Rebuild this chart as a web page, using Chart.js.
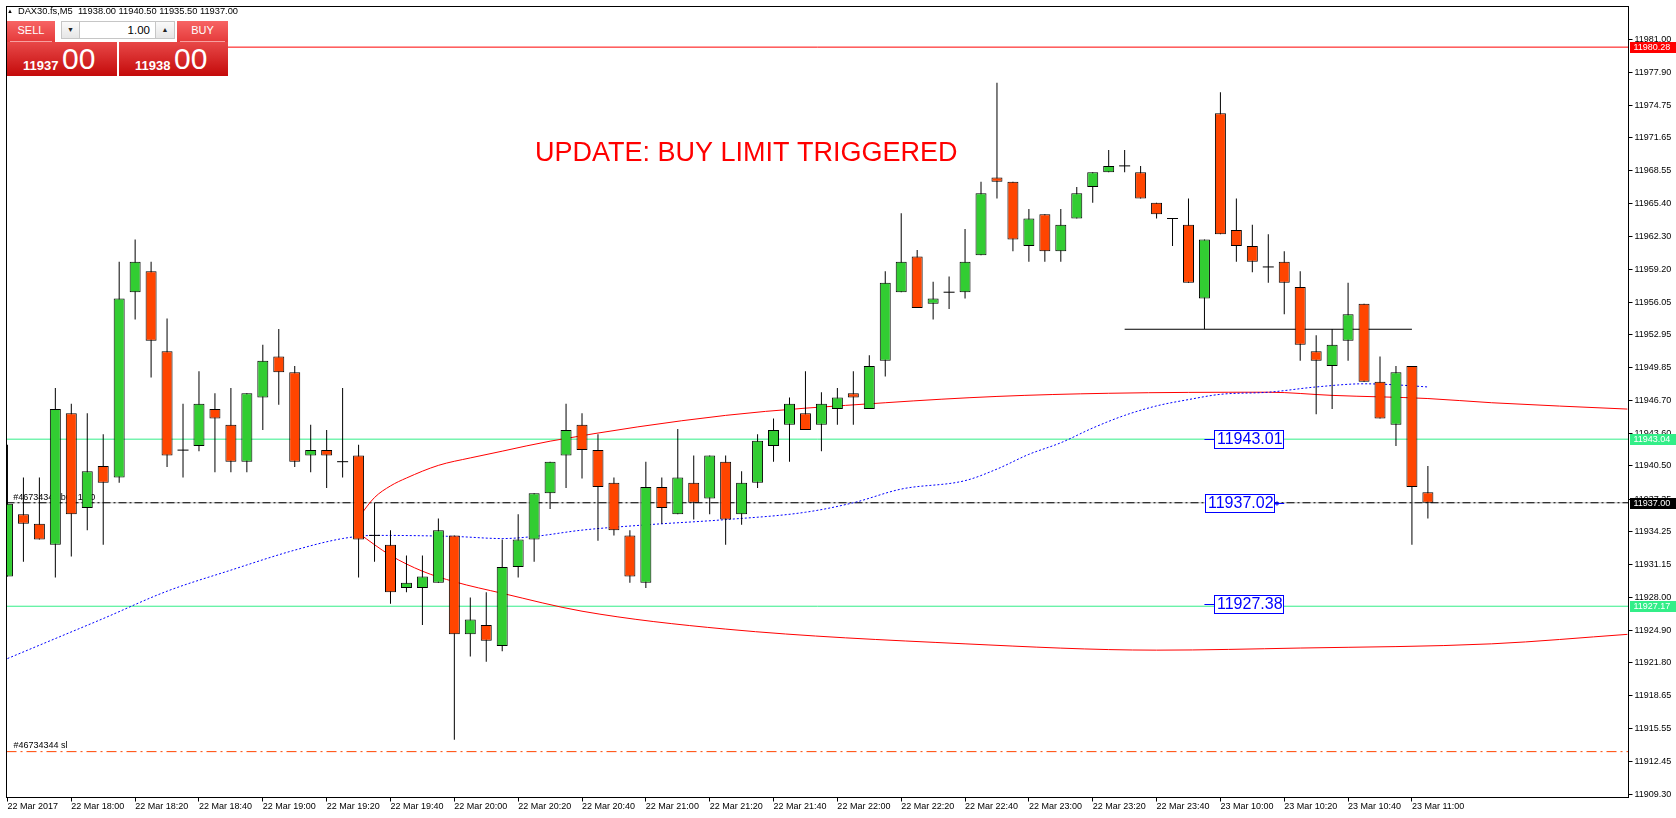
<!DOCTYPE html>
<html><head><meta charset="utf-8">
<script src="https://cdn.jsdelivr.net/npm/chart.js@4.4.0/dist/chart.umd.min.js"></script>
<style>
html,body{margin:0;padding:0;background:#fff;overflow:hidden}
#wrap{position:relative;width:1676px;height:818px}
canvas{display:block;position:absolute;left:0;top:0}
.a{position:absolute;box-sizing:border-box;font-family:"Liberation Sans",Arial,sans-serif;white-space:nowrap}
#hdr{left:7px;top:6px;font-size:9.3px;line-height:10px;color:#000}
#hdr .tri{font-size:6px;vertical-align:1px;margin-right:5px}
#pbg{left:7px;top:20px;width:221px;height:56px;background:#fff}
.btn{top:21px;height:21px;background:linear-gradient(#f76464,#e53a3a);color:#fff;font-size:11px;line-height:19px;text-align:center}
.btn i{position:absolute;left:3px;right:3px;bottom:0;height:1px;background:#f7a0a0}
.spin{top:21px;width:19px;height:18px;background:linear-gradient(#fafafa,#e6e6e6);border:1px solid #c6c6c6;color:#222;font-size:7px;line-height:16px;text-align:center}
#lot{left:80px;top:21px;width:75px;height:18px;background:#fff;border-top:1px solid #c6c6c6;border-bottom:1px solid #c6c6c6;color:#000;font-size:11.5px;line-height:16px;text-align:right;padding-right:5px}
.pr{top:42px;height:34px;background:linear-gradient(#e84848,#c40a0a);color:#fff}
.pr .sm{position:absolute;top:17px;font-weight:bold;font-size:13px;line-height:13px}
.pr .bg{position:absolute;top:2px;font-size:30px;line-height:30px}
</style></head><body>
<div id="wrap">
<canvas id="c" width="1676" height="818"></canvas>
<div class="a" id="hdr"><span class="tri">&#9650;</span>DAX30.fs,M5&nbsp; 11938.00 11940.50 11935.50 11937.00</div>
<div class="a" id="pbg"></div>
<div class="a btn" style="left:7px;width:48px">SELL<i></i></div>
<div class="a spin" style="left:61px">&#9660;</div>
<div class="a" id="lot">1.00</div>
<div class="a spin" style="left:155px;width:20px">&#9650;</div>
<div class="a btn" style="left:177px;width:51px">BUY<i></i></div>
<div class="a pr" style="left:7px;width:110px"><span class="sm" style="left:16px">11937</span><span class="bg" style="left:55px">00</span></div>
<div class="a pr" style="left:119px;width:109px"><span class="sm" style="left:16px">11938</span><span class="bg" style="left:55px">00</span></div>
</div>
<script>
// ---------- DATA ----------
const tickLabels = ['22 Mar 2017','22 Mar 18:00','22 Mar 18:20','22 Mar 18:40','22 Mar 19:00','22 Mar 19:20','22 Mar 19:40','22 Mar 20:00','22 Mar 20:20','22 Mar 20:40','22 Mar 21:00','22 Mar 21:20','22 Mar 21:40','22 Mar 22:00','22 Mar 22:20','22 Mar 22:40','22 Mar 23:00','22 Mar 23:20','22 Mar 23:40','23 Mar 10:00','23 Mar 10:20','23 Mar 10:40','23 Mar 11:00'];
const barsPerTick = 4;
const yTicks = [11981.00,11977.90,11974.75,11971.65,11968.55,11965.40,11962.30,11959.20,11956.05,11952.95,11949.85,11946.70,11943.60,11940.50,11937.35,11934.25,11931.15,11928.00,11924.90,11921.80,11918.65,11915.55,11912.45,11909.30];

const opens  = [11930.0,11935.9,11935.0,11933.0,11945.5,11936.5,11940.5,11939.4,11957.0,11959.0,11951.4,11942.0,11942.4,11945.9,11944.4,11940.9,11947.0,11950.9,11949.4,11941.5,11942.0,11940.9,11941.5,11933.9,11933.0,11928.9,11928.9,11929.4,11933.9,11924.5,11925.4,11923.4,11930.9,11933.5,11937.9,11941.5,11944.4,11942.0,11938.9,11933.9,11929.4,11938.5,11935.9,11938.9,11937.4,11940.9,11935.9,11938.9,11942.4,11944.4,11945.5,11944.4,11945.9,11947.4,11945.9,11950.5,11957.0,11960.4,11955.9,11957.0,11957.0,11960.5,11967.9,11967.5,11961.4,11964.4,11960.9,11964.0,11967.0,11968.4,11969.0,11968.4,11965.5,11964.0,11963.4,11956.4,11974.0,11962.9,11961.4,11959.4,11959.9,11957.5,11951.4,11950.0,11952.4,11955.9,11948.5,11944.4,11950.0,11938.0];
const highs  = [11942.5,11939.4,11939.4,11947.9,11946.4,11945.5,11943.5,11959.9,11962.0,11959.9,11954.5,11946.4,11949.5,11947.4,11947.9,11947.4,11952.0,11953.5,11950.0,11944.4,11943.9,11947.9,11942.5,11937.0,11934.4,11932.0,11932.0,11935.5,11933.9,11928.0,11928.5,11933.5,11935.9,11937.9,11940.9,11946.4,11945.5,11943.5,11939.4,11934.4,11940.9,11939.4,11944.0,11941.5,11941.5,11941.5,11940.0,11943.5,11945.0,11947.0,11949.5,11947.5,11947.9,11949.5,11951.0,11959.0,11964.5,11961.0,11958.0,11958.5,11963.0,11967.5,11976.9,11967.5,11964.9,11964.4,11964.9,11967.0,11968.4,11970.5,11970.5,11969.0,11965.5,11964.0,11965.9,11962.0,11976.0,11965.9,11963.4,11962.5,11960.9,11959.0,11952.9,11953.5,11957.9,11955.9,11950.9,11950.0,11950.0,11940.5];
const lows   = [11930.0,11931.4,11933.5,11929.9,11931.9,11934.4,11933.0,11938.9,11954.4,11948.9,11940.4,11939.4,11941.9,11939.9,11939.9,11939.9,11943.9,11946.3,11940.4,11939.9,11938.4,11939.4,11929.9,11931.4,11927.4,11928.5,11925.4,11929.4,11914.5,11922.4,11921.9,11922.9,11929.9,11931.4,11936.4,11938.4,11939.3,11933.4,11933.9,11929.4,11928.9,11935.0,11935.9,11935.4,11935.9,11933.0,11934.9,11938.4,11940.9,11940.9,11943.9,11941.9,11944.4,11944.4,11945.9,11949.0,11957.0,11955.5,11954.4,11955.4,11956.4,11960.5,11965.9,11960.9,11959.9,11959.9,11959.9,11964.0,11965.5,11968.4,11968.4,11965.9,11964.0,11961.4,11957.9,11953.5,11962.5,11959.9,11958.9,11957.9,11954.9,11950.5,11945.4,11945.9,11950.5,11948.5,11945.0,11942.4,11933.0,11935.5];
const closes = [11936.9,11935.0,11933.5,11945.9,11935.9,11940.0,11938.9,11956.4,11959.9,11952.4,11941.5,11942.0,11946.4,11945.0,11940.9,11947.4,11950.5,11949.4,11940.9,11942.0,11941.5,11940.9,11933.5,11933.9,11928.5,11929.4,11930.0,11934.4,11924.5,11925.9,11923.9,11930.9,11933.5,11937.9,11940.9,11943.9,11942.0,11938.5,11934.4,11930.0,11938.5,11936.5,11939.4,11937.0,11941.5,11935.4,11938.9,11942.9,11943.9,11946.4,11943.9,11946.4,11947.0,11947.0,11950.0,11957.9,11959.9,11955.5,11956.4,11957.0,11959.9,11966.4,11967.5,11962.0,11964.0,11960.9,11963.4,11966.4,11968.4,11969.0,11969.0,11965.9,11964.4,11964.0,11957.9,11962.0,11962.5,11961.4,11959.9,11959.4,11957.9,11952.0,11950.5,11952.0,11954.9,11948.5,11945.0,11949.4,11938.5,11937.0];

const maBars   = [0,3,6,10,14,18,21,23,28,31,33,36,40,45,50,53,56,60,62,64,66,68,70,72,74,76,79,82,85,87,89];
const maValues = [11922.2,11924.1,11926.0,11928.6,11930.6,11932.5,11933.6,11933.9,11933.8,11933.6,11933.8,11934.4,11934.9,11935.4,11936.1,11937.0,11938.3,11939.1,11940.2,11941.6,11942.7,11944.1,11945.3,11946.2,11946.8,11947.3,11947.5,11948.0,11948.3,11948.2,11948.0];
const upperBars   = [22,23,24,25,27,29,31,34,45,55,62,69,79,83,89,93,101.5];
const upperValues = [11935.6,11937.5,11938.6,11939.35,11940.55,11941.26,11941.9,11942.85,11945.3,11946.5,11947.1,11947.4,11947.5,11947.2,11946.9,11946.5,11945.9];
const lowerBars   = [22,24,26,28,31,36,45,60,72,81,93,101.5];
const lowerValues = [11934.1,11932.0,11930.5,11929.5,11928.4,11926.7,11925.0,11923.6,11923.0,11923.2,11923.6,11924.5];

const alertLevel = 11980.28;
const tpLevels = [11943.04, 11927.17];
const bidLevel = 11937.00;
const slLevel = 11913.36;
const supportLevel = 11953.48, supportFrom = 70, supportTo = 88;
const priceLabelValues = [11943.01, 11937.02, 11927.38];
const priceLabelBars = [75, 80, 75];
const priceLabelSides = ['left', 'right', 'left'];

// ---------- STYLE ----------
const BULL = '#32cd32', BEAR = '#ff4500', GREENLINE = '#33ee88';
const X_MIN = -0.06, X_MAX = 101.57, Y_MIN = 11909.003, Y_MAX = 11984.139;
Chart.defaults.font.family = '"Liberation Sans", Arial, sans-serif';

const idx = opens.map((_, i) => i);
const bodyData = [], bodyColors = [], dojiData = [];
idx.forEach(i => {
  if (opens[i] === closes[i]) dojiData.push({x: i, y: opens[i]});
  else { bodyData.push({x: i, y: [opens[i], closes[i]]}); bodyColors.push(closes[i] > opens[i] ? BULL : BEAR); }
});
const wickData = idx.map(i => ({x: i, y: [lows[i], highs[i]]}));
const pts = (xs, ys) => xs.map((x, k) => ({x, y: ys[k]}));
const hline = v => [{x: X_MIN, y: v}, {x: X_MAX, y: v}];
const lineDs = (data, color, extra) => Object.assign({type: 'line', data, borderColor: color, borderWidth: 1, pointRadius: 0, fill: false, tension: 0}, extra || {});

const overlay = {
  id: 'overlay',
  beforeDatasetsDraw(chart) {
    const {ctx, chartArea: a} = chart;
    const y = chart.scales.y;
    ctx.save();
    ctx.fillStyle = '#000';
    ctx.font = '9px "Liberation Sans", Arial, sans-serif';
    ctx.textBaseline = 'middle';
    ctx.fillText('#46734344 buy 1.70', a.left + 6.8, y.getPixelForValue(bidLevel) - 5.3);
    ctx.fillText('#46734344 sl', a.left + 7, y.getPixelForValue(slLevel) - 6);
    ctx.fillStyle = '#ff0000';
    ctx.font = '27px "Liberation Sans", Arial, sans-serif';
    ctx.textBaseline = 'alphabetic';
    ctx.fillText('UPDATE: BUY LIMIT TRIGGERED', 535, 161);
    ctx.restore();
  },
  afterDraw(chart) {
    const {ctx, chartArea: a} = chart;
    const x = chart.scales.x, y = chart.scales.y;
    ctx.save();
    ctx.strokeStyle = '#000'; ctx.lineWidth = 1;
    ctx.strokeRect(a.left, a.top, a.right - a.left, a.bottom - a.top);
    // axis price tags
    const tags = [[alertLevel, '#ff0000'], [tpLevels[0], GREENLINE], [bidLevel, '#000000'], [tpLevels[1], GREENLINE]];
    ctx.font = '9px "Liberation Sans", Arial, sans-serif';
    ctx.textBaseline = 'middle';
    tags.forEach(([v, c]) => {
      const py = Math.round(y.getPixelForValue(v));
      ctx.fillStyle = c;
      ctx.fillRect(a.right + 1.5, py - 5, 1676 - a.right, 11);
      ctx.fillStyle = '#fff';
      ctx.fillText(v.toFixed(2), a.right + 5, py + 0.5);
    });
    // blue price labels
    ctx.font = '16px "Liberation Sans", Arial, sans-serif';
    priceLabelValues.forEach((v, k) => {
      const px = x.getPixelForValue(priceLabelBars[k]);
      const py = Math.round(y.getPixelForValue(v)) + 0.5;
      const w = 69, h = 18;
      const bx = priceLabelSides[k] === 'left' ? Math.round(px + 10) + 0.5 : Math.round(px - 10 - w) + 0.5;
      ctx.strokeStyle = '#0000ff'; ctx.fillStyle = '#fff';
      ctx.fillRect(bx, py - h / 2, w, h);
      ctx.strokeRect(bx, py - h / 2, w, h);
      ctx.beginPath();
      if (priceLabelSides[k] === 'left') { ctx.moveTo(px, py); ctx.lineTo(bx, py); }
      else { ctx.moveTo(bx + w, py); ctx.lineTo(px, py); }
      ctx.stroke();
      if (priceLabelSides[k] === 'right') { ctx.beginPath(); ctx.arc(bx + w + 2.5, py, 1.5, 0, Math.PI * 2); ctx.stroke(); }
      ctx.fillStyle = '#0000ff';
      ctx.textBaseline = 'middle';
      ctx.fillText(v.toFixed(2), bx + 2.5, py + 0.5);
    });
    ctx.restore();
  }
};

new Chart(document.getElementById('c'), {
  type: 'bar',
  data: {
    datasets: [
      {type: 'bar', data: bodyData, backgroundColor: bodyColors, borderColor: '#000', borderWidth: 1, borderSkipped: false, barThickness: 11, grouped: false, inflateAmount: 0},
      {type: 'line', data: dojiData, showLine: false, pointStyle: 'line', pointRadius: 5.5, pointBorderColor: '#000', pointBorderWidth: 1, borderColor: '#000'},
      {type: 'bar', data: wickData, backgroundColor: '#000', borderWidth: 0, barThickness: 1, grouped: false, inflateAmount: 0},
      lineDs(pts(maBars, maValues), '#0000ff', {borderDash: [2, 2], cubicInterpolationMode: 'monotone'}),
      lineDs(pts(upperBars, upperValues), '#ff0000', {cubicInterpolationMode: 'monotone'}),
      lineDs(pts(lowerBars, lowerValues), '#ff0000', {cubicInterpolationMode: 'monotone'}),
      lineDs([{x: supportFrom, y: supportLevel}, {x: supportTo, y: supportLevel}], '#000'),
      lineDs(hline(bidLevel), '#000', {borderDash: [8, 3, 2, 3]}),
      lineDs(hline(bidLevel), '#c0c0c0'),
      lineDs(hline(slLevel), '#ff4500', {borderDash: [10, 4, 2, 4]}),
      lineDs(hline(tpLevels[0]), GREENLINE),
      lineDs(hline(tpLevels[1]), GREENLINE),
      lineDs(hline(alertLevel), '#ff0000')
    ]
  },
  options: {
    responsive: false, animation: false, events: [],
    layout: {padding: {left: 2.5, top: 2.5, right: 0, bottom: 0}},
    plugins: {legend: {display: false}, tooltip: {enabled: false}},
    scales: {
      x: {
        type: 'linear', min: X_MIN, max: X_MAX, offset: false, position: 'bottom',
        grid: {drawOnChartArea: false, drawTicks: true, tickLength: 4, color: '#000', offset: false},
        border: {display: false},
        ticks: {autoSkip: false, maxRotation: 0, minRotation: 0, align: 'start', padding: 0, color: '#000', font: {size: 9},
          callback: (v, i) => tickLabels[i]},
        afterBuildTicks: s => { s.ticks = tickLabels.map((_, k) => ({value: k * barsPerTick})); },
        afterFit: s => { s.height = 20.5; s.paddingLeft = 0; s.paddingRight = 0; }
      },
      y: {
        type: 'linear', position: 'right', min: Y_MIN, max: Y_MAX,
        grid: {drawOnChartArea: false, drawTicks: true, tickLength: 4, color: '#000'},
        border: {display: false},
        ticks: {autoSkip: false, padding: 2, color: '#000', font: {size: 9}, callback: v => v.toFixed(2)},
        afterBuildTicks: s => { s.ticks = yTicks.map(v => ({value: v})); },
        afterFit: s => { s.width = 47.5; s.paddingTop = 0; s.paddingBottom = 0; }
      }
    }
  },
  plugins: [overlay]
});
</script>
</body></html>
